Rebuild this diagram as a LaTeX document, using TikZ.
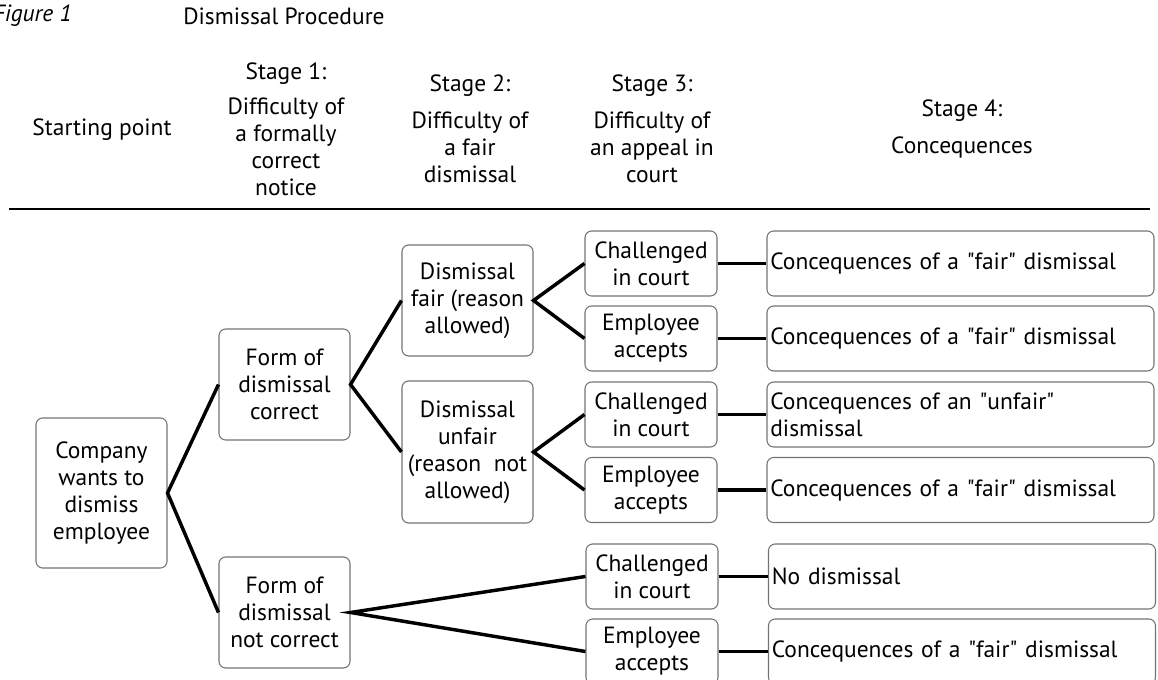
\documentclass[tikz,border=0pt]{standalone}
\usepackage{fontspec}
\setmainfont{PT Sans}
\begin{document}
\begin{tikzpicture}[x=0.75pt,y=-0.75pt,
  every node/.style={font=\fontsize{17.6}{20.3}\selectfont},
  box/.style={draw=black!55,line width=0.8pt,rounded corners=5pt,align=center,inner sep=1pt},
  sbox/.style={box,minimum width=98.25pt},
  tbox/.style={box,minimum width=99pt,minimum height=48.75pt},
  cbox/.style={box,align=left,text width=285.25pt,inner xsep=2.5pt,minimum height=48.75pt},
  con/.style={line width=2.6pt},
  hdr/.style={align=center,inner sep=0pt}]
\useasboundingbox (0,0) rectangle (1158,680);
% title
\node[anchor=east,inner sep=0pt] (fig) at (72,16) {\itshape Figure 1};
\node[anchor=west,inner sep=0pt] (title) at (183,16) {Dismissal Procedure};
% headers
\node[hdr] (h0) at (102,130) {Starting point};
\node[hdr] (h1) at (286,129) {Stage 1:\\[6pt]Difficulty of\\a formally\\correct\\notice};
\node[hdr] (h2) at (470,129) {Stage 2:\\[7pt]Difficulty of\\a fair\\dismissal};
\node[hdr] (h3) at (652,129) {Stage 3:\\[7pt]Difficulty of\\an appeal in\\court};
\node[hdr] (h4) at (962,129) {Stage 4:\\[7pt]Concequences};
\coordinate (l1) at (9,209);
\coordinate (l2) at (1150,209);
\draw[line width=1.6pt] (l1) -- (l2);
% stage 0-2 boxes
\node[sbox,minimum height=112.5pt] (start) at (101.5,493) {Company\\wants to\\dismiss\\employee};
\node[sbox,minimum height=83.25pt] (fc) at (284.5,384.5) {Form of\\dismissal\\correct};
\node[sbox,minimum height=83.25pt] (fn) at (284.5,612.5) {Form of\\dismissal\\not correct};
\node[sbox,minimum height=83.25pt] (df) at (467.5,300.5) {Dismissal\\fair (reason\\allowed)};
\node[sbox,minimum height=106.5pt] (du) at (467.5,452) {Dismissal\\unfair\\(reason\ \ not\\allowed)};
% stage 3
\node[tbox] (c1) at (651,263.5) {Challenged\\in court};
\node[tbox] (e1) at (651,338.5) {Employee\\accepts};
\node[tbox] (c2) at (651,414.5) {Challenged\\in court};
\node[tbox] (e2) at (651,490) {Employee\\accepts};
\node[tbox] (c3) at (652,576.5) {Challenged\\in court};
\node[tbox] (e3) at (652,651.5) {Employee\\accepts};
% stage 4
\node[cbox] (r1) at (960.5,263.5) {Concequences of a \textquotedbl fair\textquotedbl\ dismissal};
\node[cbox] (r2) at (960.5,338.5) {Concequences of a \textquotedbl fair\textquotedbl\ dismissal};
\node[cbox] (r3) at (960.5,414.5) {Concequences of an \textquotedbl unfair\textquotedbl\\dismissal};
\node[cbox] (r4) at (960.5,490) {Concequences of a \textquotedbl fair\textquotedbl\ dismissal};
\node[cbox] (r5) at (962,576.5) {No dismissal};
\node[cbox] (r6) at (962,651.5) {Concequences of a \textquotedbl fair\textquotedbl\ dismissal};
% connectors
\draw[con] (fc.west) -- (start.east) -- (fn.west);
\draw[con] (df.west) -- (fc.east) -- (du.west);
\draw[con] (c3.west) -- (fn.east) -- (e3.west);
\draw[con] (c1.west) -- (df.east) -- (e1.west);
\draw[con] (c2.west) -- (du.east) -- (e2.west);
\draw[con] (c1) -- (r1);
\draw[con] (e1) -- (r2);
\draw[con] (c2) -- (r3);
\draw[con] (e2) -- (r4);
\draw[con] (c3) -- (r5);
\draw[con] (e3) -- (r6);
\end{tikzpicture}
\end{document}
